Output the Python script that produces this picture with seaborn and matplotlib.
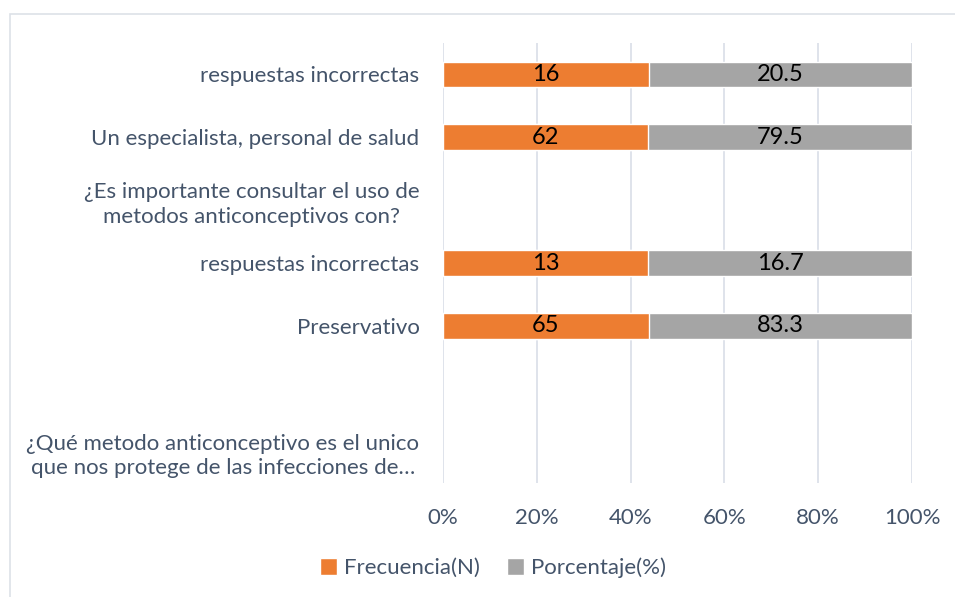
import numpy as np
import pandas as pd
import matplotlib
matplotlib.use("Agg")
import matplotlib.pyplot as plt
from matplotlib.patches import Rectangle, Patch
import seaborn as sns

# Chart data (top to bottom, as in the reference)
categories = [
    "respuestas incorrectas",
    "Un especialista, personal de salud",
    "¿Es importante consultar el uso de\nmetodos anticonceptivos con?",
    "respuestas incorrectas",
    "Preservativo",
    "",
    "¿Qué metodo anticonceptivo es el unico\nque nos protege de las infecciones de…",
]
frecuencia = [16, 62, np.nan, 13, 65, np.nan, np.nan]
porcentaje = [20.5, 79.5, np.nan, 16.7, 83.3, np.nan, np.nan]
x_ticks = [0, 20, 40, 60, 80, 100]

ORANGE = "#ED7D31"
GRAY = "#A5A5A5"
TEXT = "#44546A"
GRID = "#DCE1E9"

sns.set_theme(style="white")
plt.rcParams["font.family"] = ["Lato", "DejaVu Sans"]

ids = [str(i) for i in range(len(categories))]
df = pd.DataFrame({"id": ids, "freq": frecuencia, "pct": porcentaje})
df = df.dropna()
df["total"] = df["freq"] + df["pct"]
df["share_freq"] = df["freq"] / df["total"] * 100
df["share_all"] = 100.0

fig = plt.figure(figsize=(9.55, 5.97), dpi=100)
ax = fig.add_axes([443 / 955, 1 - 483 / 597, 469 / 955, 440 / 597])

sns.barplot(data=df, x="share_all", y="id", order=ids, orient="h",
            color=GRAY, saturation=1, width=0.41, ax=ax, zorder=2)
sns.barplot(data=df, x="share_freq", y="id", order=ids, orient="h",
            color=ORANGE, saturation=1, width=0.41, ax=ax, zorder=3)

# data labels
ax.bar_label(ax.containers[1], labels=[f"{v:g}" for v in df["freq"]],
             label_type="center", fontsize=17, color="black")
for _, row in df.iterrows():
    ax.text((row["share_freq"] + 100) / 2, ids.index(row["id"]), f"{row['pct']:g}",
            ha="center", va="center", fontsize=17, color="black", zorder=4)

ax.set_xlim(0, 100)
ax.set_xticks(x_ticks)
ax.set_xticklabels([f"{t}%" for t in x_ticks])
ax.set_yticks(range(len(categories)))
ax.set_yticklabels(categories, multialignment="center", linespacing=1.3)
ax.set_xlabel("")
ax.set_ylabel("")
ax.grid(axis="x", color=GRID, lw=1.3, zorder=0)
ax.grid(axis="y", visible=False)
for s in ax.spines.values():
    s.set_visible(False)
ax.tick_params(axis="x", length=0, pad=18, labelsize=16, labelcolor=TEXT)
ax.tick_params(axis="y", length=0, pad=17, labelsize=16, labelcolor=TEXT)

handles = [Patch(facecolor=ORANGE, label="Frecuencia(N)"),
           Patch(facecolor=GRAY, label="Porcentaje(%)")]
leg = fig.legend(handles=handles, loc="center", bbox_to_anchor=(0.516, 1 - 568 / 597),
                 ncol=2, frameon=False, fontsize=16, handlelength=0.8, handleheight=0.8,
                 handletextpad=0.3, columnspacing=1.2)
for t in leg.get_texts():
    t.set_color(TEXT)

fig.patches.append(Rectangle((10 / 955, -0.1), 1.1, 1.1 - 14 / 597, transform=fig.transFigure,
                             fill=False, edgecolor="#DDE1E8", lw=1.2))

fig.savefig("out.png", dpi=100)
